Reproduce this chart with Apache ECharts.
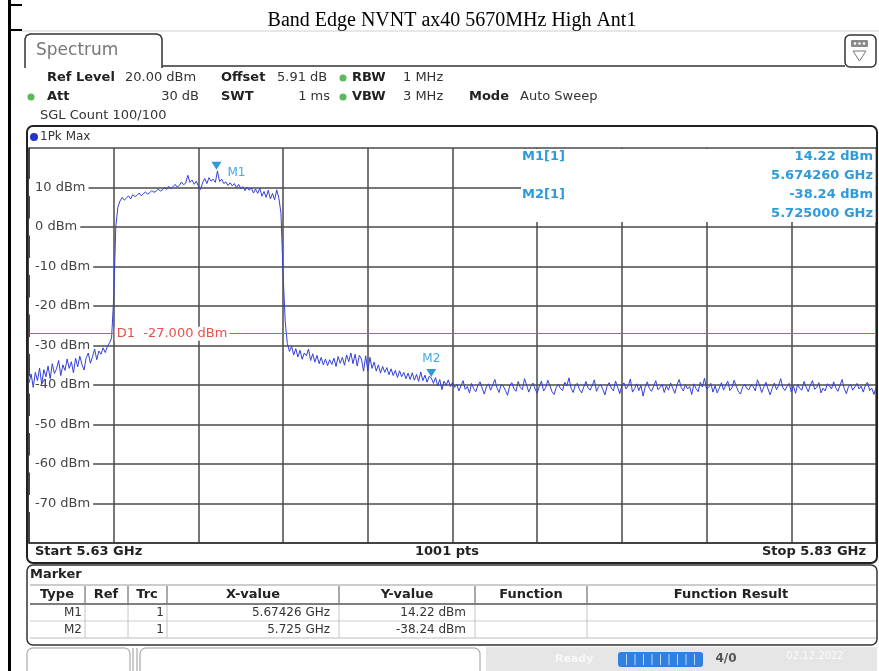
<!DOCTYPE html>
<html><head><meta charset="utf-8">
<script src="https://cdn.jsdelivr.net/npm/echarts@6/dist/echarts.min.js"></script>
<style>html,body{margin:0;padding:0;background:#fff}#c{width:879px;height:671px}</style>
</head><body><div id="c"></div>
<script>
// ---------------- data ----------------
const chartTitle = 'Band Edge NVNT ax40 5670MHz High Ant1';
const startGHz = 5.63;
const stopGHz = 5.83;
const sweepPoints = 1001;
const stepMHz = 0.5;
const channelLowGHz = 5.65;
const displayLineDbm = -27;
const yTicksDbm = [20, 10, 0, -10, -20, -30, -40, -50, -60, -70, -80];

// trace levels (dBm), 0.5 MHz apart, starting at 5.6300 GHz
const lowerSkirt = [ // 5.6300 .. 5.6495
  -39.5,-37.2,-40.6,-36.8,-38.9,-35.7,-39.8,-36.1,-37.9,-35.2,
  -38.4,-34.6,-37.1,-35.9,-33.8,-37.6,-34.9,-36.3,-33.4,-35.8,
  -34.1,-36.9,-33.2,-35.4,-32.7,-34.8,-36.2,-33.1,-31.9,-34.5,
  -32.8,-30.9,-33.6,-31.4,-32.2,-30.6,-31.8,-30.2,-29.4,-28.1
];
const channel = [ // 5.6500 .. 5.6900
  -18, 0.2, 5.1, 6.6, 7.5, 6.8, 7.3, 7.9, 7.1, 8.2,
  7.7, 8.0, 8.6, 7.9, 8.4, 8.9, 8.3, 8.7, 9.2, 8.8,
  9.0, 9.6, 9.1, 9.4, 10.0, 9.5, 10.3, 9.7, 10.2, 10.8,
  10.1, 10.5, 11.4, 10.7, 11.1, 13.1, 11.3, 11.9, 10.8, 11.6,
  10.3, 9.5, 11.2, 12.3, 11.0, 12.5, 11.6, 12.1, 11.3, 14.2,
  11.5, 12.1, 11.0, 11.4, 10.5, 11.2, 10.4, 11.0, 9.9, 10.8,
  9.7, 10.2, 9.2, 10.1, 9.3, 9.9, 8.6, 9.6, 8.5, 9.8,
  7.8, 9.0, 7.5, 9.3, 7.1, 8.5, 6.9, 9.4, 7.3, 3.5,
  -12
];
const upperSkirt = [ // 5.6905 .. 5.7300
  -24,-29.5,-31.5,-30.2,-32.4,-30.8,-32.9,-31.2,-33.5,-31.9,
  -32.6,-30.9,-33.8,-32.1,-34.2,-32.5,-34.6,-33.0,-34.9,-33.4,
  -35.1,-33.6,-34.8,-33.2,-35.3,-32.8,-34.5,-33.0,-35.0,-32.4,
  -34.1,-31.9,-34.6,-32.2,-35.2,-32.5,-33.4,-36.5,-32.6,-36.4,
  -33.0,-35.8,-34.2,-36.5,-34.9,-37.0,-35.3,-36.8,-35.6,-37.4,
  -35.9,-37.6,-36.3,-38.1,-36.4,-37.9,-36.8,-38.4,-37.0,-38.6,
  -36.9,-38.8,-37.3,-39.1,-36.7,-38.9,-37.5,-39.3,-37.8,-38.2,
  -39.6,-38.1,-40.2,-38.6,-41.2,-39.0,-40.1,-38.7,-40.4,-39.3
];
const noiseFloor = [ // 5.7305 .. 5.8300
  -40.6,-39.8,-41.5,-40.2,-38.9,-41.1,-40.4,-42.0,-39.6,-40.9,
  -41.7,-40.1,-39.2,-40.8,-42.3,-40.5,-39.7,-41.3,-40.0,-38.6,
  -40.7,-41.9,-39.9,-40.3,-41.4,-42.6,-40.2,-39.4,-40.9,-41.6,
  -39.1,-40.6,-41.2,-38.4,-40.0,-41.8,-40.4,-39.5,-41.0,-42.1,
  -40.3,-39.0,-41.5,-40.7,-38.8,-40.1,-41.7,-42.4,-40.6,-39.8,
  -40.9,-41.4,-39.3,-40.2,-38.2,-40.8,-41.9,-40.0,-39.6,-41.2,
  -42.0,-40.5,-39.1,-40.7,-41.3,-40.1,-38.7,-41.6,-40.4,-39.9,
  -41.1,-42.5,-40.3,-39.4,-40.8,-41.5,-39.0,-40.6,-42.2,-40.0,
  -39.5,-41.0,-40.2,-38.5,-41.8,-40.9,-39.7,-41.4,-40.1,-42.8,
  -40.5,-39.2,-40.9,-41.6,-40.3,-38.9,-41.2,-40.7,-39.8,-41.9,
  -40.2,-41.3,-39.5,-40.8,-42.1,-40.0,-38.6,-40.6,-41.5,-39.9,
  -41.0,-40.4,-42.4,-39.7,-40.9,-41.7,-39.3,-40.5,-38.3,-41.1,
  -40.6,-39.6,-41.8,-40.2,-42.0,-40.8,-39.4,-41.3,-40.1,-39.0,
  -41.4,-40.7,-38.8,-40.3,-41.6,-42.3,-40.5,-39.8,-40.9,-41.2,
  -39.9,-40.4,-41.5,-38.7,-40.0,-41.9,-40.6,-39.3,-41.0,-42.5,
  -40.8,-39.5,-41.2,-40.1,-38.4,-40.7,-41.4,-40.3,-39.6,-41.8,
  -40.2,-42.1,-39.8,-40.9,-41.3,-39.1,-40.5,-41.7,-40.0,-38.9,
  -41.1,-40.6,-39.4,-42.0,-40.8,-41.5,-39.7,-40.2,-41.0,-39.2,
  -40.7,-41.6,-40.1,-38.6,-40.9,-42.2,-40.4,-39.9,-41.3,-40.5,
  -39.6,-41.0,-40.3,-41.8,-40.0,-39.3,-41.4,-40.8,-42.4,-40.6
];
const markerNames = ['M1', 'M2'];
const markerFreqGHz = [5.67426, 5.725];
const markerLevelDbm = [14.22, -38.24];

// ---------------- build ----------------
const levels = [].concat(lowerSkirt, channel, upperSkirt, noiseFloor);
const trace = levels.map((v, i) => [i * stepMHz, v]);
const toOffsetMHz = g => Math.round((g - startGHz) * 1e6) / 1000;
const spanMHz = toOffsetMHz(stopGHz);

const FONT = '"DejaVu Sans", Verdana, sans-serif';
const MK = '#2e9bd8';
const GRIDC = '#4a4a4a';
const G = [];
function T(x, y, text, o) {
  o = o || {};
  const size = o.size || 13, weight = o.bold ? 'bold ' : '';
  G.push({type: 'text', x: x, y: y, z: o.z || 20, silent: true,
    style: {text: text, fill: o.color || '#333', font: weight + size + 'px ' + (o.family || FONT),
      align: o.align || 'left', verticalAlign: 'middle', textAlign: o.align || 'left', textVerticalAlign: 'middle'}});
}
function L(x1, y1, x2, y2, c, w, z) {
  G.push({type: 'line', z: z || 20, silent: true, shape: {x1: x1, y1: y1, x2: x2, y2: y2}, style: {stroke: c, lineWidth: w || 1}});
}
function R(x, y, w, h, o) {
  G.push({type: 'rect', z: o.z || 20, silent: true, shape: {x: x, y: y, width: w, height: h, r: o.r || 0},
    style: {fill: o.fill || 'none', stroke: o.stroke || 'none', lineWidth: o.lw || 1}});
}
function PL(pts, o) {
  G.push({type: 'polyline', z: o.z || 20, silent: true, shape: {points: pts}, style: {fill: 'none', stroke: o.stroke || '#333', lineWidth: o.lw || 1}});
}
function PG(pts, o) {
  G.push({type: 'polygon', z: o.z || 20, silent: true, shape: {points: pts}, style: {fill: o.fill || 'none', stroke: o.stroke || 'none', lineWidth: o.lw || 1}});
}
function C(cx, cy, r, fill) {
  G.push({type: 'circle', z: 20, silent: true, shape: {cx: cx, cy: cy, r: r}, style: {fill: fill}});
}
function openBox(x1, x2, yTop, yBot, stroke, lw) {
  PL([[x1, yBot], [x1, yTop + 5], [x1 + 1.5, yTop + 1.5], [x1 + 5, yTop], [x2 - 5, yTop], [x2 - 1.5, yTop + 1.5], [x2, yTop + 5], [x2, yBot]], {stroke: stroke, lw: lw});
}

// page frame
R(8, 0, 3, 671, {fill: '#000'});
L(8, 5, 22, 5, '#000', 2);
L(8, 30, 22, 30, '#000', 2);
L(22, 31, 879, 31, '#cfcfcf', 1);
T(452, 21, chartTitle, {size: 20, color: '#000', align: 'center', family: '"Liberation Serif", "Times New Roman", serif'});

// Spectrum tab + header
openBox(25, 162, 34, 68, '#333', 1.5);
L(162, 66, 845, 66, '#333', 1.5);
T(36, 51, 'Spectrum', {size: 17, color: '#777'});
R(845, 35, 31, 32, {r: 5, stroke: '#333', lw: 1.5});
R(851, 40, 17, 7, {r: 1, fill: '#8a8a8a'});
C(855, 43.5, 1.2, '#fff'); C(859.5, 43.5, 1.2, '#fff'); C(864, 43.5, 1.2, '#fff');
PG([[853, 51], [866, 51], [859.5, 61]], {stroke: '#777', lw: 1});

T(47, 78, 'Ref Level', {bold: true, color: '#222'});
T(125, 78, '20.00 dBm');
T(221, 78, 'Offset', {bold: true, color: '#222'});
T(277, 78, '5.91 dB');
C(343, 78, 3.5, '#5cb85c');
T(352, 78, 'RBW', {bold: true, color: '#222'});
T(403, 78, '1 MHz');
C(31, 97, 3.5, '#5cb85c');
T(47, 97, 'Att', {bold: true, color: '#222'});
T(199, 97, '30 dB', {align: 'right'});
T(221, 97, 'SWT', {bold: true, color: '#222'});
T(330, 97, '1 ms', {align: 'right'});
C(343, 97, 3.5, '#5cb85c');
T(352, 97, 'VBW', {bold: true, color: '#222'});
T(403, 97, '3 MHz');
T(469, 97, 'Mode', {bold: true, color: '#222'});
T(520, 97, 'Auto Sweep');
T(40, 116, 'SGL Count 100/100');

// plot panel
R(27, 126, 850, 437, {r: 6, stroke: '#222', lw: 2});
C(34, 137, 4, '#2233cc');
T(40, 137, '1Pk Max', {size: 12});
T(35, 552, 'Start ' + startGHz + ' GHz', {bold: true, color: '#222'});
T(447, 552, sweepPoints + ' pts', {bold: true, color: '#222', align: 'center'});
T(866, 552, 'Stop ' + stopGHz + ' GHz', {bold: true, color: '#222', align: 'right'});

// marker readout box (top right of the diagram)
R(521, 149, 354.5, 73, {fill: '#fff', z: 15});
markerNames.forEach((n, i) => {
  const y0 = 157 + i * 38;
  T(522, y0, n + '[1]', {bold: true, color: MK});
  T(873, y0, markerLevelDbm[i].toFixed(2) + ' dBm', {bold: true, color: MK, align: 'right'});
  T(873, y0 + 18.5, markerFreqGHz[i].toFixed(6) + ' GHz', {bold: true, color: MK, align: 'right'});
});

// marker table
R(27, 565, 850, 80, {r: 6, stroke: '#333', lw: 1.5});
T(30, 575, 'Marker', {bold: true, color: '#222'});
L(30, 585, 876, 585, '#999', 1);
L(30, 604, 876, 604, '#555', 1.5);
L(30, 621, 876, 621, '#ccc', 1);
L(30, 638, 876, 638, '#bbb', 1);
const colSep = [85, 128, 167, 339, 475, 587];
colSep.forEach(x => { L(x, 586, x, 603, '#555', 1); L(x, 605, x, 638, '#c4c4c4', 1); });
const heads = [['Type', 57], ['Ref', 106], ['Trc', 147], ['X-value', 253], ['Y-value', 407], ['Function', 531], ['Function Result', 731]];
heads.forEach(h => T(h[1], 595, h[0], {bold: true, color: '#222', align: 'center'}));
markerNames.forEach((n, i) => {
  const y0 = 613 + i * 17;
  T(82, y0, n, {align: 'right', size: 12});
  T(164, y0, '1', {align: 'right', size: 12});
  T(330, y0, String(markerFreqGHz[i]) + ' GHz', {align: 'right', size: 12});
  T(466, y0, markerLevelDbm[i].toFixed(2) + ' dBm', {align: 'right', size: 12});
});

// status bar
openBox(27, 130, 648, 672, '#999', 1);
L(133, 648, 133, 671, '#999', 1);
L(137, 648, 137, 671, '#999', 1);
openBox(140, 480, 648, 672, '#999', 1);
R(486, 647, 391, 24, {fill: '#e6e6e6'});
T(555, 659, 'Ready', {size: 11, color: '#f7f7f7', bold: true});
R(618, 652, 85, 15, {r: 3, fill: '#2f80e0'});
for (let k = 1; k < 10; k++) L(618 + k * 8.5, 654, 618 + k * 8.5, 665, '#bcd8f7', 1);
T(726, 659, '4/0', {size: 12, bold: true, color: '#555', align: 'center'});
T(815, 656, '02.12.2022', {size: 10, color: '#fafafa', align: 'center'});

const chart = echarts.init(document.getElementById('c'), null, {renderer: 'canvas'});
chart.setOption({
  animation: false,
  backgroundColor: '#fff',
  grid: {left: 29, right: 3, top: 148, bottom: 128, containLabel: false},
  xAxis: {
    type: 'value', min: 0, max: spanMHz, interval: spanMHz / 10,
    axisLabel: {show: false}, axisTick: {show: false},
    axisLine: {show: true, onZero: false, lineStyle: {color: '#333', width: 1.5}},
    splitLine: {show: true, showMinLine: true, showMaxLine: true, lineStyle: {color: GRIDC, width: 1.5}}
  },
  yAxis: {
    type: 'value', min: yTicksDbm[yTicksDbm.length - 1], max: yTicksDbm[0], interval: yTicksDbm[0] - yTicksDbm[1],
    axisTick: {show: false},
    axisLine: {show: true, onZero: false, lineStyle: {color: '#333', width: 1.5}},
    splitLine: {show: true, showMinLine: true, showMaxLine: true, lineStyle: {color: GRIDC, width: 1.5}},
    axisLabel: {
      inside: true, margin: 0, showMinLabel: false, showMaxLabel: false,
      formatter: v => v + ' dBm', color: '#444', fontSize: 13, fontFamily: FONT,
      backgroundColor: '#fff', padding: [2, 3, 2, 6], align: 'left'
    }
  },
  series: [{
    type: 'line', data: trace, showSymbol: false, symbol: 'none',
    lineStyle: {color: '#3340d8', width: 1}, itemStyle: {color: '#3340d8'},
    z: 3,
    markLine: {
      silent: true, symbol: 'none', animation: false,
      lineStyle: {color: '#e8504a', width: 1, type: 'solid'},
      label: {show: false},
      data: [{yAxis: displayLineDbm}]
    },
    markPoint: {
      silent: true, animation: false,
      data: [{
        coord: [toOffsetMHz(channelLowGHz), displayLineDbm], symbol: 'rect', symbolSize: 0,
        label: {show: true, position: 'right', distance: 1, formatter: 'D1  ' + displayLineDbm.toFixed(3) + ' dBm',
          color: '#e8504a', fontSize: 13, fontFamily: FONT, backgroundColor: '#fff', padding: [1, 2, 0, 2]}
      }].concat(markerNames.map((n, i) => ({
        coord: [toOffsetMHz(markerFreqGHz[i]), markerLevelDbm[i]],
        symbol: 'triangle', symbolRotate: 180, symbolSize: [10, 8], symbolOffset: [0, -5],
        itemStyle: {color: MK},
        label: i === 0
          ? {show: true, formatter: n, position: 'right', distance: 6, offset: [0, 7], color: '#45a8e0', fontSize: 12, fontFamily: FONT}
          : {show: true, formatter: n, position: 'top', distance: 4, color: '#45a8e0', fontSize: 12, fontFamily: FONT}
      })))
    }
  }],
  graphic: {elements: G}
});
</script>
</body></html>
